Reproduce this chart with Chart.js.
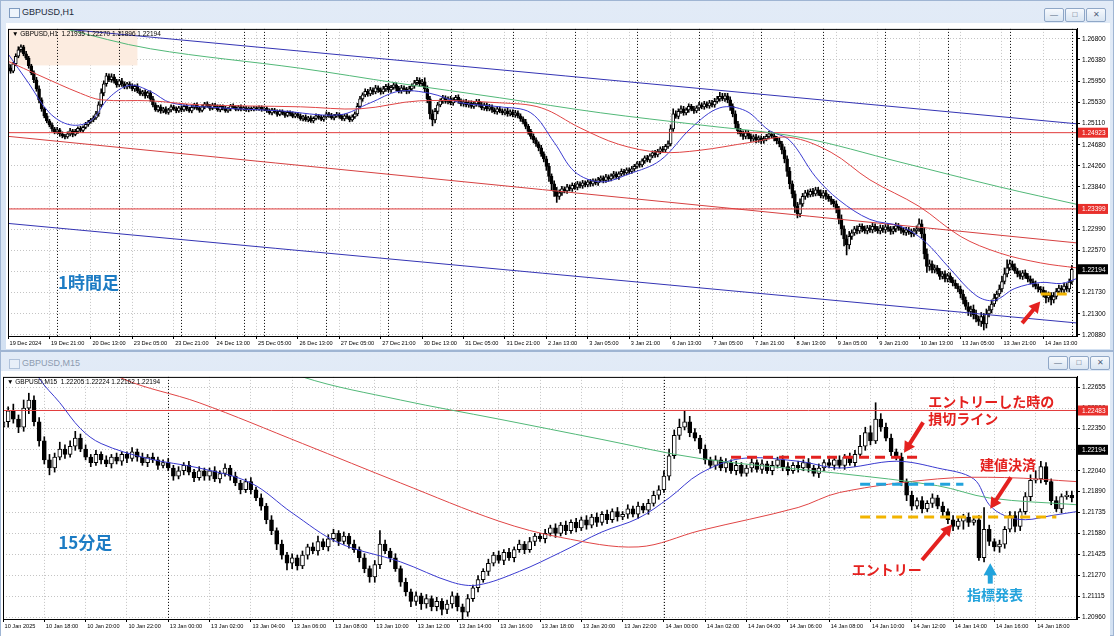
<!DOCTYPE html>
<html lang="ja">
<head>
<meta charset="UTF-8">
<title>GBPUSD H1 / M15</title>
<script src="https://cdn.jsdelivr.net/npm/chart.js@4.4.1/dist/chart.umd.min.js"></script>
<style>
  body { margin: 0; width: 1114px; height: 636px; background: #cddcee; position: relative; overflow: hidden;
         font-family: "Liberation Sans", Arial, sans-serif; }
  .win { position: absolute; left: 0; width: 1114px; box-sizing: border-box;
         background: linear-gradient(#e2ebf7, #d3e1f2); border: 1px solid #9fb5d3; }
  .ico { position: absolute; left: 8px; width: 9px; height: 8px; border: 1px solid #7f9bc0; background: #eef4fb; }
  .ttl { position: absolute; left: 21px; font-size: 9px; color: #1d2a3a; }
  .inactive .ttl { color: #8d9bb0; }
  .inactive .ico { opacity: .5; }
  .btn { position: absolute; width: 18px; height: 12px; border: 1px solid #8fa7c7; border-radius: 2px;
         background: linear-gradient(#f6f9fd, #d9e5f2); font-size: 8px; line-height: 12px; text-align: center; color: #51627a; }
  canvas { position: absolute; background: #fff; }
</style>
</head>
<body>

<div class="win" style="top:0;height:351px">
  <span class="ico" style="top:7px"></span><span class="ttl" style="top:6px">GBPUSD,H1</span>
  <span class="btn" style="left:1043px;top:7px">&#8212;</span>
  <span class="btn" style="left:1064px;top:7px">&#9633;</span>
  <span class="btn" style="left:1085px;top:7px">&#10005;</span>
</div>
<canvas id="chartH1" width="1104" height="326" style="left:6px;top:23px"></canvas>

<div class="win inactive" style="top:351px;height:285px">
  <span class="ico" style="top:7px"></span><span class="ttl" style="top:6px">GBPUSD,M15</span>
  <span class="btn" style="left:1047px;top:4px">&#8212;</span>
  <span class="btn" style="left:1068px;top:4px">&#9633;</span>
  <span class="btn" style="left:1089px;top:4px">&#10005;</span>
</div>
<canvas id="chartM15" width="1109" height="265" style="left:1px;top:371px"></canvas>

<script>
// ---------------- H1 (1時間足) ----------------
var h1TickLabels = ['19 Dec 2024', '19 Dec 21:00', '20 Dec 13:00', '23 Dec 05:00', '23 Dec 21:00', '24 Dec 13:00',
  '25 Dec 05:00', '26 Dec 13:00', '27 Dec 05:00', '27 Dec 21:00', '30 Dec 13:00', '31 Dec 05:00', '31 Dec 21:00',
  '2 Jan 13:00', '3 Jan 05:00', '3 Jan 21:00', '6 Jan 13:00', '7 Jan 05:00', '7 Jan 21:00', '8 Jan 13:00',
  '9 Jan 05:00', '9 Jan 21:00', '10 Jan 13:00', '13 Jan 05:00', '13 Jan 21:00', '14 Jan 13:00'];
var h1DayStarts = [19, 43, 67, 91, 99, 123, 147, 171, 195, 219, 243, 267, 291, 315, 339, 363, 387, 411];
var h1YTicks = [1.26800, 1.26380, 1.25950, 1.25530, 1.25110, 1.24680, 1.24260, 1.23840, 1.23410,
  1.22990, 1.22570, 1.22150, 1.21730, 1.21300, 1.20880];

var h1FirstOpen = 1.2630;
var h1Close = [
  1.2622,1.2615,1.2630,1.2645,1.2658,1.2664,1.2650,1.2641,1.2626,1.2612,1.2598,1.2580,1.2558,1.2540,1.2526,1.2516,
  1.2508,1.2500,1.2494,1.2498,1.2490,1.2486,1.2484,1.2490,1.2496,1.2489,1.2495,1.2501,1.2497,1.2503,1.2509,1.2514,
  1.2518,1.2522,1.2530,1.2548,1.2572,1.2590,1.2606,1.2598,1.2604,1.2595,1.2588,1.2596,1.2590,1.2584,1.2590,1.2586,
  1.2580,1.2585,1.2576,1.2570,1.2574,1.2566,1.2572,1.2560,1.2548,1.2538,1.2544,1.2536,1.2540,1.2533,1.2538,1.2544,
  1.2540,1.2536,1.2542,1.2538,1.2545,1.2540,1.2536,1.2543,1.2548,1.2541,1.2537,1.2544,1.2550,1.2546,1.2541,1.2548,
  1.2544,1.2538,1.2545,1.2541,1.2536,1.2540,1.2546,1.2543,1.2539,1.2544,1.2540,1.2542,1.2538,1.2541,1.2539,1.2542,
  1.2540,1.2543,1.2539,1.2541,1.2536,1.2532,1.2538,1.2534,1.2529,1.2535,1.2531,1.2527,1.2533,1.2530,1.2525,1.2530,
  1.2526,1.2520,1.2524,1.2518,1.2522,1.2516,1.2521,1.2526,1.2523,1.2519,1.2524,1.2530,1.2527,1.2522,1.2526,1.2529,
  1.2525,1.2520,1.2526,1.2523,1.2518,1.2524,1.2530,1.2545,1.2560,1.2568,1.2575,1.2570,1.2578,1.2574,1.2582,1.2578,
  1.2574,1.2580,1.2585,1.2578,1.2583,1.2588,1.2581,1.2576,1.2582,1.2579,1.2575,1.2580,1.2586,1.2592,1.2597,1.2590,
  1.2594,1.2580,1.2560,1.2530,1.2518,1.2535,1.2548,1.2556,1.2562,1.2555,1.2560,1.2552,1.2558,1.2563,1.2556,1.2550,
  1.2554,1.2548,1.2552,1.2545,1.2550,1.2555,1.2548,1.2542,1.2548,1.2540,1.2544,1.2538,1.2534,1.2540,1.2536,1.2532,
  1.2536,1.2530,1.2534,1.2528,1.2532,1.2526,1.2520,1.2514,1.2505,1.2495,1.2485,1.2478,1.2470,1.2462,1.2450,1.2440,
  1.2425,1.2405,1.2390,1.2375,1.2365,1.2372,1.2380,1.2376,1.2384,1.2380,1.2387,1.2383,1.2390,1.2386,1.2392,1.2388,
  1.2394,1.2390,1.2396,1.2392,1.2398,1.2402,1.2397,1.2404,1.2400,1.2406,1.2410,1.2404,1.2410,1.2415,1.2412,1.2418,
  1.2415,1.2420,1.2425,1.2430,1.2428,1.2436,1.2442,1.2438,1.2446,1.2452,1.2448,1.2455,1.2460,1.2458,1.2465,1.2470,
  1.2500,1.2530,1.2525,1.2535,1.2540,1.2532,1.2538,1.2545,1.2540,1.2536,1.2542,1.2548,1.2544,1.2550,1.2546,1.2552,
  1.2548,1.2555,1.2560,1.2565,1.2560,1.2566,1.2558,1.2545,1.2530,1.2510,1.2496,1.2490,1.2485,1.2492,1.2486,1.2480,
  1.2484,1.2478,1.2482,1.2476,1.2480,1.2485,1.2490,1.2486,1.2481,1.2476,1.2470,1.2458,1.2440,1.2415,1.2390,1.2370,
  1.2345,1.2330,1.2350,1.2365,1.2372,1.2368,1.2375,1.2370,1.2378,1.2372,1.2366,1.2372,1.2365,1.2360,1.2355,1.2350,
  1.2340,1.2320,1.2300,1.2280,1.2268,1.2285,1.2292,1.2300,1.2296,1.2305,1.2300,1.2296,1.2302,1.2298,1.2305,1.2300,
  1.2296,1.2302,1.2298,1.2304,1.2300,1.2295,1.2300,1.2306,1.2302,1.2297,1.2293,1.2298,1.2294,1.2290,1.2296,1.2300,
  1.2310,1.2290,1.2250,1.2225,1.2230,1.2218,1.2222,1.2215,1.2205,1.2210,1.2200,1.2206,1.2198,1.2192,1.2186,1.2180,
  1.2170,1.2158,1.2145,1.2135,1.2140,1.2128,1.2120,1.2115,1.2125,1.2110,1.2130,1.2138,1.2150,1.2162,1.2170,1.2180,
  1.2195,1.2210,1.2222,1.2230,1.2224,1.2216,1.2210,1.2205,1.2212,1.2206,1.2200,1.2195,1.2190,1.2185,1.2180,1.2178,
  1.2172,1.2162,1.2168,1.2158,1.2165,1.2175,1.2182,1.2178,1.2186,1.2180,1.2194,1.2219
];
// wick lengths in pips beyond the candle body
var h1UpperWick = [
  4,6,3,5,6,4,3,5,4,3,4,5,6,4,3,5, 3,4,3,5,3,4,3,4,5,3,4,3,4,3,4,3, 3,4,5,6,8,6,5,4,6,5,4,3,5,4,3,4,
  4,3,5,4,3,4,3,4,5,4,3,4,3,4,3,4, 3,4,3,4,3,4,3,4,3,4,3,4,3,4,3,3, 3,4,3,3,4,3,3,4,3,3,4,3,3,3,3,3,
  3,3,3,3,3,4,3,3,4,3,3,4,3,3,4,3, 3,4,3,4,3,4,3,4,3,4,3,4,3,4,3,4, 3,4,3,4,3,4,4,6,5,4,5,4,5,4,5,4,
  4,5,4,5,4,5,4,4,5,4,4,5,4,5,6,5, 5,8,6,5,8,6,5,4,5,4,4,5,4,4,5,4, 4,5,4,4,5,4,4,5,4,4,5,4,4,5,4,4,
  4,5,4,4,5,4,4,4,5,4,4,5,4,4,5,4, 5,6,5,6,8,6,5,4,5,4,5,4,5,4,5,4, 4,5,4,4,5,4,4,5,4,4,5,4,4,5,4,4,
  4,5,4,4,5,4,4,5,4,4,5,4,4,5,4,6, 8,10,6,5,6,5,4,5,4,5,4,5,4,5,4,5, 5,6,5,8,6,5,5,6,5,6,5,5,6,5,5,4,
  4,5,4,4,5,4,5,4,5,4,6,5,6,6,8,6, 6,8,10,6,5,6,5,6,5,5,6,5,5,4,5,4, 6,5,8,6,8,10,6,5,6,5,5,6,5,5,6,5,
  5,6,5,5,6,5,5,6,5,5,6,5,5,6,5,6, 10,8,12,10,8,6,6,5,6,5,6,5,6,5,6,5, 6,8,6,8,6,8,10,6,8,6,10,8,8,8,6,8,
  10,12,16,8,6,6,5,6,5,6,5,6,5,6,5,5, 6,5,6,5,8,6,6,5,6,5,6,8
];
var h1LowerWick = [
  5,4,3,4,3,5,4,3,5,4,6,5,6,5,4,4, 4,5,4,3,5,4,4,3,4,5,3,4,3,4,3,4, 3,4,3,5,4,6,5,4,5,4,5,4,5,4,4,5,
  4,5,4,3,4,5,4,5,4,3,4,5,4,3,4,4, 3,4,3,4,3,4,3,4,4,3,4,3,4,3,4,3, 3,3,4,3,3,3,4,3,3,3,4,3,3,4,3,3,
  3,3,4,3,3,3,4,3,4,3,3,4,3,4,3,3, 4,3,4,3,4,3,4,3,4,3,4,3,4,3,4,3, 4,3,4,3,4,3,3,4,4,5,4,5,4,5,4,5,
  5,4,5,4,5,4,5,4,5,4,5,4,4,5,4,5, 4,6,8,10,12,6,5,4,5,4,5,4,5,4,5,4, 5,4,5,4,4,5,4,4,5,4,4,5,4,5,4,4,
  4,5,4,4,5,4,5,4,5,6,5,6,5,6,5,6, 8,10,12,10,12,6,5,4,5,4,5,4,5,4,5,4, 4,5,4,4,5,4,5,4,5,4,5,4,5,4,5,4,
  5,4,5,4,5,4,5,4,5,4,5,4,5,4,5,4, 4,5,4,5,4,5,4,5,4,5,4,5,4,5,4,5, 4,5,4,5,4,5,6,8,6,8,6,5,6,5,6,5,
  5,6,5,6,5,4,5,4,5,6,6,8,8,10,10,8, 12,8,6,5,6,5,4,5,4,5,4,5,6,5,6,6, 8,10,12,14,20,8,6,5,6,5,6,5,6,5,6,5,
  5,6,5,6,5,6,5,6,5,6,5,6,5,6,5,6, 5,8,10,12,8,6,6,5,6,5,6,6,5,6,5,6, 8,8,6,8,10,8,6,8,10,12,8,6,6,5,6,5,
  6,5,6,5,6,5,6,5,6,5,6,5,6,5,6,6, 8,10,8,10,6,5,6,5,6,5,6,4
];
// moving averages: [bar index, price]
var h1MaBlue = [[0,1.2650],[8,1.2591],[16,1.2532],[24,1.2508],[32,1.2516],[39,1.2562],[47,1.2587],[55,1.2575],
  [63,1.2552],[82,1.2542],[105,1.2536],[128,1.2528],[140,1.2552],[151,1.2575],[163,1.2571],[175,1.2552],
  [190,1.2544],[202,1.2532],[211,1.2473],[219,1.2414],[229,1.2394],[240,1.2410],[252,1.2437],[264,1.2502],
  [275,1.2542],[285,1.2536],[294,1.2497],[302,1.2477],[312,1.2404],[321,1.2358],[333,1.2319],[345,1.2305],
  [354,1.2276],[364,1.2220],[374,1.2167],[381,1.2157],[389,1.2181],[399,1.2193],[407,1.2191],[413,1.2201]];
var h1MaRed = [[0,1.2635],[12,1.2607],[28,1.2571],[36,1.2558],[55,1.2556],[74,1.2548],[113,1.2544],[136,1.2540],
  [159,1.2556],[190,1.2552],[206,1.2542],[221,1.2502],[236,1.2469],[252,1.2453],[267,1.2457],[287,1.2473],
  [302,1.2483],[318,1.2453],[333,1.2398],[352,1.2345],[368,1.2285],[383,1.2252],[399,1.2232],[413,1.2222]];
var h1MaGreen = [[12,1.2714],[22,1.2700],[55,1.2660],[113,1.2621],[151,1.2591],[190,1.2562],[229,1.2532],
  [267,1.2508],[306,1.2483],[345,1.2433],[383,1.2384],[413,1.2349]];
var h1ChannelTop = [[0,1.2710],[413,1.2510]];
var h1ChannelMid = [[0,1.2485],[413,1.2272]];
var h1ChannelLow = [[0,1.2311],[413,1.2112]];
var h1Levels = [1.24923, 1.23399];
var h1Current = 1.22194;

// ---------------- M15 (15分足) ----------------
var m15TickLabels = ['10 Jan 2025', '10 Jan 18:00', '10 Jan 20:00', '10 Jan 22:00', '13 Jan 00:00', '13 Jan 02:00',
  '13 Jan 04:00', '13 Jan 06:00', '13 Jan 08:00', '13 Jan 10:00', '13 Jan 12:00', '13 Jan 14:00', '13 Jan 16:00',
  '13 Jan 18:00', '13 Jan 20:00', '13 Jan 22:00', '14 Jan 00:00', '14 Jan 02:00', '14 Jan 04:00', '14 Jan 06:00',
  '14 Jan 08:00', '14 Jan 10:00', '14 Jan 12:00', '14 Jan 14:00', '14 Jan 16:00', '14 Jan 18:00'];
var m15DayStarts = [32, 128];
var m15YTicks = [1.22655, 1.22500, 1.22350, 1.22195, 1.22040, 1.21890, 1.21735, 1.21580, 1.21425,
  1.21270, 1.21115, 1.20960];

var m15FirstOpen = 1.2236;
var m15Close = [
  1.2240,1.2248,1.2242,1.2236,1.2250,1.2256,1.2240,1.2226, 1.2212,1.2206,1.2214,1.2220,1.2216,1.2222,1.2228,1.2220,
  1.2214,1.2210,1.2216,1.2212,1.2209,1.2214,1.2211,1.2216, 1.2213,1.2218,1.2214,1.2210,1.2214,1.2212,1.2208,1.2210,
  1.2206,1.2200,1.2204,1.2208,1.2203,1.2199,1.2204,1.2200, 1.2204,1.2198,1.2202,1.2206,1.2200,1.2195,1.2190,1.2196,
  1.2190,1.2184,1.2178,1.2168,1.2160,1.2150,1.2142,1.2136, 1.2140,1.2134,1.2142,1.2148,1.2145,1.2152,1.2148,1.2154,
  1.2158,1.2152,1.2156,1.2150,1.2146,1.2140,1.2132,1.2126, 1.2135,1.2150,1.2145,1.2140,1.2132,1.2122,1.2115,1.2108,
  1.2112,1.2106,1.2110,1.2104,1.2108,1.2102,1.2106,1.2112, 1.2104,1.2100,1.2110,1.2118,1.2124,1.2130,1.2136,1.2142,
  1.2138,1.2144,1.2140,1.2146,1.2150,1.2146,1.2152,1.2156, 1.2154,1.2158,1.2162,1.2158,1.2164,1.2160,1.2166,1.2162,
  1.2168,1.2164,1.2170,1.2166,1.2172,1.2168,1.2174,1.2170, 1.2172,1.2176,1.2172,1.2178,1.2175,1.2180,1.2186,1.2190,
  1.2200,1.2215,1.2230,1.2236,1.2240,1.2232,1.2228,1.2220, 1.2212,1.2208,1.2212,1.2206,1.2210,1.2204,1.2208,1.2202,
  1.2206,1.2210,1.2205,1.2209,1.2204,1.2208,1.2212,1.2207, 1.2204,1.2208,1.2206,1.2210,1.2206,1.2202,1.2206,1.2210,
  1.2208,1.2212,1.2208,1.2214,1.2210,1.2216,1.2222,1.2232, 1.2226,1.2242,1.2236,1.2228,1.2218,1.2214,1.2196,1.2186,
  1.2178,1.2182,1.2176,1.2180,1.2184,1.2178,1.2174,1.2168, 1.2163,1.2167,1.2170,1.2166,1.2168,1.2140,1.2161,1.2152,
  1.2148,1.2150,1.2161,1.2171,1.2163,1.2174,1.2185,1.2197, 1.2198,1.2207,1.2196,1.2182,1.2176,1.2185,1.2186,1.2184
];
var m15UpperWick = [
  4,3,5,3,6,5,3,3, 3,4,3,5,3,4,5,3, 3,2,3,2,3,2,3,2, 2,3,2,3,2,3,2,2, 3,2,3,2,3,2,3,2, 2,3,2,3,2,3,2,2,
  3,2,3,2,3,2,3,2, 3,2,3,2,3,4,2,3, 3,2,3,2,3,2,3,2, 3,10,3,2,3,2,3,2, 3,2,3,2,3,2,3,3, 2,2,3,2,3,2,3,2,
  3,2,3,2,3,2,3,2, 2,3,2,3,2,3,2,3, 2,3,2,3,2,3,2,3, 2,3,2,3,2,3,3,3, 4,5,4,6,8,4,3,2, 3,2,3,2,3,2,3,2,
  2,3,2,3,2,3,2,3, 3,2,3,2,3,2,3,2, 3,2,3,2,3,3,8,4, 5,12,4,3,3,2,3,2, 3,2,3,2,3,2,3,2, 3,3,2,3,2,3,16,3,
  2,3,2,3,3,2,3,4, 6,4,3,2,3,2,3,3
];
var m15LowerWick = [
  3,4,3,4,3,4,3,4, 3,5,3,2,3,2,3,2, 2,3,2,3,2,3,2,3, 3,2,3,2,3,2,3,2, 2,3,2,3,2,3,2,3, 3,2,3,2,3,2,3,2,
  3,2,3,3,3,4,3,5, 4,3,2,3,2,3,2,3, 2,3,2,3,2,3,3,4, 4,3,2,3,2,3,3,4, 3,4,3,3,3,4,3,3, 3,5,3,2,3,2,3,2,
  2,3,2,3,2,3,2,3, 2,3,2,3,2,3,2,3, 2,3,2,3,2,3,2,3, 2,3,2,3,2,3,2,3, 2,3,2,3,2,3,2,3, 3,2,3,2,3,2,3,2,
  2,3,2,3,2,3,2,3, 3,2,3,2,3,2,3,2, 2,3,2,3,2,3,2,3, 3,2,3,2,3,2,3,4, 3,2,3,2,3,2,3,3, 3,2,6,3,2,2,3,3,
  3,4,3,2,4,3,2,3, 2,3,2,3,2,3,2,3
];
var m15MaBlue = [[5,1.2289],[7,1.2272],[11,1.2254],[15,1.2235],[19,1.2224],[28,1.2213],[38,1.2206],[48,1.2195],
  [56,1.2173],[65,1.2151],[77,1.2137],[87,1.2122],[92,1.2120],[100,1.2130],[108,1.2144],[116,1.2159],
  [123,1.2169],[129,1.2184],[135,1.2202],[143,1.2213],[154,1.2211],[162,1.2206],[173,1.2211],[181,1.2206],
  [188,1.2198],[191,1.2179],[194,1.2171],[198,1.2168],[203,1.2171],[208,1.2174]];
var m15MaRed = [[17,1.2289],[23,1.2272],[38,1.2254],[58,1.2224],[77,1.2195],[96,1.2167],[108,1.2155],[123,1.2148],
  [135,1.2160],[154,1.2177],[162,1.2188],[181,1.2198],[194,1.2199],[208,1.2196]];
var m15MaGreen = [[50,1.2289],[58,1.2273],[77,1.2256],[96,1.2242],[116,1.2227],[135,1.2213],[162,1.2202],
  [181,1.2193],[191,1.2184],[208,1.2179]];
var m15Levels = [1.22483];
var m15Current = 1.22194;

// trade marks drawn on the M15 chart (bar index, price)
var m15StopLine = [[141,1.2214],[178,1.2214]];
var m15MidLine = [[166,1.2194],[186,1.2194]];
var m15EntryLine = [[166,1.2170],[204,1.2170]];
var h1EntryLine = [[399,1.2170],[411,1.2170]];

var PIP = 0.0001;
var RED = '#e4211f', CYAN = '#22a3dc', GOLD = '#f2b400', NOTE_BLUE = '#1d7cc4';
var AXIS_FONT = '"Liberation Sans", Arial, sans-serif';
Chart.defaults.font.family = AXIS_FONT;
Chart.defaults.font.size = 6.5;
Chart.defaults.color = '#000';

function buildCandles(firstOpen, closes, up, dn) {
  var bodies = [], wicks = [], fills = [];
  var open = firstOpen;
  for (var i = 0; i < closes.length; i++) {
    var c = closes[i];
    bodies.push({x: i, y: [open, c]});
    wicks.push({x: i, y: [Math.min(open, c) - dn[i] * PIP, Math.max(open, c) + up[i] * PIP]});
    fills.push(c >= open ? '#ffffff' : '#000000');
    open = c;
  }
  return {bodies: bodies, wicks: wicks, fills: fills};
}

function pts(pairs) {
  return pairs.map(function (p) { return {x: p[0], y: p[1]}; });
}

function lineSet(pairs, color, extra) {
  var ds = {type: 'line', data: pts(pairs), borderColor: color, borderWidth: 1, pointRadius: 0,
    tension: 0.35, order: 0};
  return Object.assign(ds, extra || {});
}

// draws separators, price boxes, header, notes and arrows through the chart scales
var decorPlugin = {
  id: 'decor',
  beforeDatasetsDraw: function (chart, args, o) {
    var ctx = chart.ctx, a = chart.chartArea, x = chart.scales.x, y = chart.scales.y;
    ctx.save();
    if (o.shade) {
      ctx.fillStyle = '#fcece0';
      var x0 = Math.max(x.getPixelForValue(o.shade[0]), a.left), x1 = x.getPixelForValue(o.shade[1]);
      var y0 = Math.max(y.getPixelForValue(o.shade[2]), a.top), y1 = y.getPixelForValue(o.shade[3]);
      ctx.fillRect(x0, y0, x1 - x0, y1 - y0);
    }
    ctx.strokeStyle = '#000';
    ctx.lineWidth = 1;
    ctx.setLineDash([1, 2]);
    o.separators.forEach(function (i) {
      var px = Math.round(x.getPixelForValue(i)) + 0.5;
      ctx.beginPath(); ctx.moveTo(px, a.top); ctx.lineTo(px, a.bottom); ctx.stroke();
    });
    ctx.restore();
  },
  afterDatasetsDraw: function (chart, args, o) {
    var ctx = chart.ctx, a = chart.chartArea, x = chart.scales.x, y = chart.scales.y;
    ctx.save();
    // arrows
    (o.arrows || []).forEach(function (ar) {
      var x0 = x.getPixelForValue(ar.from[0]), y0 = y.getPixelForValue(ar.from[1]);
      var x1 = x.getPixelForValue(ar.to[0]), y1 = y.getPixelForValue(ar.to[1]);
      var ang = Math.atan2(y1 - y0, x1 - x0), head = ar.head || 11;
      var cs = Math.cos(ang), sn = Math.sin(ang);
      ctx.strokeStyle = ar.color; ctx.fillStyle = ar.color; ctx.lineWidth = ar.width || 4;
      ctx.beginPath(); ctx.moveTo(x0, y0);
      ctx.lineTo(x1 - cs * head * 0.8, y1 - sn * head * 0.8); ctx.stroke();
      ctx.beginPath(); ctx.moveTo(x1, y1);
      ctx.lineTo(x1 - cs * head + sn * head * 0.55, y1 - sn * head - cs * head * 0.55);
      ctx.lineTo(x1 - cs * head - sn * head * 0.55, y1 - sn * head + cs * head * 0.55);
      ctx.closePath(); ctx.fill();
    });
    // notes
    ctx.textBaseline = 'middle'; ctx.textAlign = 'left';
    (o.notes || []).forEach(function (n) {
      ctx.font = 'bold ' + (n.size || 14) + 'px "Noto Sans CJK JP", sans-serif';
      ctx.fillStyle = n.color;
      ctx.fillText(n.text, x.getPixelForValue(n.at[0]), y.getPixelForValue(n.at[1]));
    });
    // header line
    ctx.font = '6.5px ' + AXIS_FONT;
    ctx.fillStyle = '#000';
    ctx.fillText(o.header, a.left + 4, a.top + 5);
    // chart frame
    ctx.strokeStyle = '#000'; ctx.lineWidth = 1;
    ctx.strokeRect(a.left + 0.5, a.top + 0.5, a.right - a.left - 1, a.bottom - a.top);
    // price boxes on the axis
    o.boxes.forEach(function (b) {
      var py = y.getPixelForValue(b.value);
      ctx.fillStyle = b.color;
      ctx.fillRect(a.right + 1, py - 5, chart.width - a.right - 3, 10);
      ctx.fillStyle = '#fff';
      ctx.fillText(b.value.toFixed(5), a.right + 5, py + 0.5);
    });
    ctx.restore();
  }
};

function makeChart(id, cfg) {
  var cd = buildCandles(cfg.firstOpen, cfg.closes, cfg.up, cfg.dn);
  var datasets = [
    {type: 'bar', data: cd.wicks, backgroundColor: '#000', borderWidth: 0, barThickness: 1, grouped: false, order: 3},
    {type: 'bar', data: cd.bodies, backgroundColor: cd.fills, borderColor: '#000', borderWidth: 1,
      borderSkipped: false, barThickness: cfg.bodyWidth, minBarLength: 1, grouped: false, order: 2},
    lineSet(cfg.maGreen, '#52b878'),
    lineSet(cfg.maRed, '#e04545'),
    lineSet(cfg.maBlue, '#3b3bd0')
  ];
  cfg.levels.forEach(function (v) {
    datasets.push(lineSet([[0, v], [cfg.maxX, v]], '#e23b3b', {tension: 0}));
  });
  (cfg.channels || []).forEach(function (c) {
    datasets.push(lineSet(c.pairs, c.color, {tension: 0}));
  });
  (cfg.dashed || []).forEach(function (d) {
    datasets.push(lineSet(d.pairs, d.color, {tension: 0, borderWidth: 3, borderDash: [10, 6], order: -1}));
  });

  return new Chart(document.getElementById(id), {
    type: 'bar',
    data: {datasets: datasets},
    options: {
      responsive: false,
      animation: false,
      events: [],
      layout: {padding: {left: 2, top: cfg.padTop, right: 0, bottom: 0}},
      plugins: {legend: {display: false}, tooltip: {enabled: false}, decor: cfg.decor},
      scales: {
        x: {
          type: 'linear', min: 0, max: cfg.maxX, offset: false,
          afterBuildTicks: function (s) {
            s.ticks = cfg.tickLabels.map(function (_, k) { return {value: k * cfg.tickStep}; });
          },
          afterFit: function (s) { s.height = cfg.xAxisHeight; },
          ticks: {
            autoSkip: false, maxRotation: 0, minRotation: 0, align: 'start', padding: 1,
            font: {size: 5.6},
            callback: function (v, i) { return ' ' + cfg.tickLabels[i]; }
          },
          grid: {color: '#c4c4c4', offset: false, tickLength: 3, tickColor: '#000'},
          border: {display: true, color: '#000', dash: [1, 2]}
        },
        y: {
          type: 'linear', position: 'right', min: cfg.minY, max: cfg.maxY,
          afterBuildTicks: function (s) {
            s.ticks = cfg.yTicks.map(function (v) { return {value: v}; });
          },
          afterFit: function (s) { s.width = 33; },
          ticks: {autoSkip: false, padding: 2, callback: function (v) { return v.toFixed(5); }},
          grid: {color: '#c4c4c4', tickLength: 3, tickColor: '#000'},
          border: {display: true, color: '#000', dash: [1, 2]}
        }
      }
    },
    plugins: [decorPlugin]
  });
}

makeChart('chartH1', {
  firstOpen: h1FirstOpen, closes: h1Close, up: h1UpperWick, dn: h1LowerWick, bodyWidth: 3,
  maBlue: h1MaBlue, maRed: h1MaRed, maGreen: h1MaGreen, levels: h1Levels, maxX: 413,
  channels: [{pairs: h1ChannelTop, color: '#3434b4'}, {pairs: h1ChannelMid, color: '#d64040'},
    {pairs: h1ChannelLow, color: '#3434b4'}],
  dashed: [{pairs: h1EntryLine, color: GOLD}],
  tickLabels: h1TickLabels, tickStep: 16, yTicks: h1YTicks, minY: 1.2086, maxY: 1.26997,
  padTop: 2, xAxisHeight: 13,
  decor: {
    separators: h1DayStarts,
    shade: [0, 50, 1.2700, 1.26267],
    header: '\u25BC GBPUSD,H1  1.21935 1.22270 1.21896 1.22194',
    boxes: [{value: h1Levels[0], color: '#e8302c'}, {value: h1Levels[1], color: '#e8302c'}, {value: h1Current, color: '#000'}],
    notes: [{text: '1時間足', at: [19.3, 1.21926], color: NOTE_BLUE, size: 17}],
    arrows: [{from: [391.8, 1.21117], to: [398.8, 1.21551], color: RED}]
  }
});

makeChart('chartM15', {
  firstOpen: m15FirstOpen, closes: m15Close, up: m15UpperWick, dn: m15LowerWick, bodyWidth: 4,
  maBlue: m15MaBlue, maRed: m15MaRed, maGreen: m15MaGreen, levels: m15Levels, maxX: 208,
  dashed: [{pairs: m15StopLine, color: RED}, {pairs: m15MidLine, color: CYAN}, {pairs: m15EntryLine, color: GOLD}],
  tickLabels: m15TickLabels, tickStep: 8, yTicks: m15YTicks, minY: 1.2095, maxY: 1.2273,
  padTop: 1, xAxisHeight: 17,
  decor: {
    separators: m15DayStarts,
    header: '\u25BC GBPUSD,M15  1.22205 1.22224 1.22162 1.22194',
    boxes: [{value: m15Levels[0], color: '#e8302c'}, {value: m15Current, color: '#000'}],
    notes: [
      {text: 'エントリーした時の', at: [179.2, 1.22548], color: RED},
      {text: '損切ライン', at: [179.2, 1.22425], color: RED},
      {text: '建値決済', at: [189.2, 1.22085], color: RED},
      {text: 'エントリー', at: [164.4, 1.21312], color: RED},
      {text: '指標発表', at: [186.7, 1.21131], color: CYAN},
      {text: '15分足', at: [10.7, 1.21514], color: NOTE_BLUE, size: 17}
    ],
    arrows: [
      {from: [178.2, 1.22396], to: [174.5, 1.22172], color: RED},
      {from: [195.2, 1.21991], to: [191.2, 1.21760], color: RED},
      {from: [178.0, 1.21384], to: [183.8, 1.21644], color: RED},
      {from: [191.2, 1.21210], to: [191.2, 1.21360], color: CYAN, width: 5, head: 12}
    ]
  }
});
</script>
</body>
</html>
